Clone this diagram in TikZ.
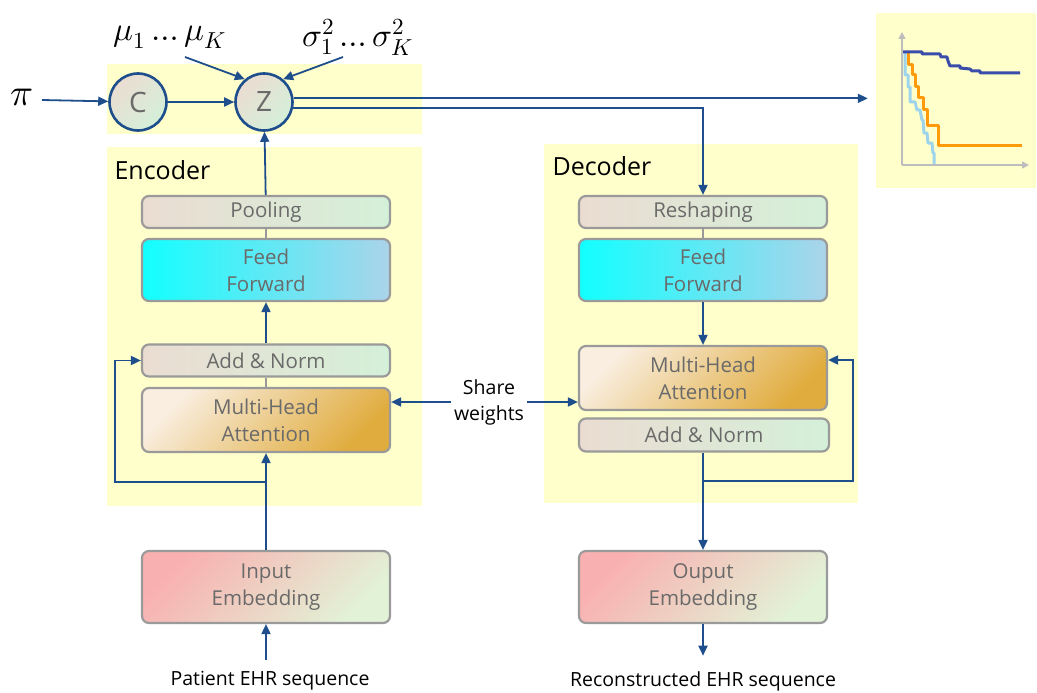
\documentclass[tikz,border=0pt]{standalone}
\usepackage{fontspec}
\usepackage{unicode-math}
\setmainfont{Open Sans}
\setmathfont{Latin Modern Math}
\usetikzlibrary{arrows.meta,positioning,calc}
\definecolor{arrowblue}{HTML}{1F4E8C}
\definecolor{bandyellow}{HTML}{FFFFCC}
\definecolor{boxgray}{HTML}{9A9A9A}
\definecolor{txtgray}{HTML}{6A6A6A}
\definecolor{normL}{HTML}{EBDCD2}
\definecolor{normR}{HTML}{D4F0D8}
\definecolor{ffL}{HTML}{12FFFF}
\definecolor{ffR}{HTML}{ABD3EA}
\definecolor{attL}{HTML}{F9EEE0}
\definecolor{attR}{HTML}{E0AC3E}
\definecolor{embL}{HTML}{F9B0B0}
\definecolor{embR}{HTML}{E2F2D6}
\definecolor{kmblue}{HTML}{3B4DAA}
\definecolor{kmorange}{HTML}{FF9A0A}
\definecolor{kmlight}{HTML}{9DD4EC}
\definecolor{axisgray}{HTML}{BDBDBD}

\begin{document}
\begin{tikzpicture}
  [x=1pt,y=-1pt,
   blk/.style={draw=boxgray,line width=2.2pt,rounded corners=7pt,text=txtgray,
     align=center,minimum width=248pt,inner sep=0pt,
     font=\fontsize{20.5}{27}\selectfont},
   normblk/.style={blk,minimum height=32pt,left color=normL,right color=normR},
   ffblk/.style={blk,minimum height=62pt,left color=ffL,right color=ffR},
   attblk/.style={blk,minimum height=64pt,left color=attL,right color=attR,shading angle=45},
   embblk/.style={blk,minimum height=72pt,left color=embL,right color=embR,shading angle=45},
   latent/.style={circle,draw=arrowblue,line width=2.6pt,minimum size=57pt,inner sep=0pt,
     left color=normL,right color=normR,shading angle=45,text=txtgray,
     font=\fontsize{28}{30}\selectfont},
   band/.style={fill=bandyellow,draw=none},
   flow/.style={arrowblue,line width=1.8pt,-{Triangle[length=10pt,width=9pt]}},
   link/.style={boxgray,line width=1.6pt},
   label/.style={font=\fontsize{19.5}{26}\selectfont,align=center},
   mathlabel/.style={font=\fontsize{33}{36}\selectfont,inner sep=1pt},
   title/.style={font=\fontsize{25}{28}\selectfont,anchor=west},
   km/.style={line width=3pt,line join=round}]

  \useasboundingbox (0,0) rectangle (1037,693);

  % yellow backgrounds
  \fill[band] (107,64) rectangle (422,134);
  \fill[band] (107,147) rectangle (422,506);
  \fill[band] (544,144) rectangle (858,503);

  % latent part
  \node[latent] (C) at (138,102) {C};
  \node[latent] (Z) at (264,102) {Z};
  \node[mathlabel,font=\fontsize{38}{40}\selectfont] (pi) at (22,98) {$\pi$};
  \node[mathlabel] (mu) at (170,37) {$\mu_1\,…\,\mu_K$};
  \node[mathlabel] (sigma) at (358,37) {$\sigma_1^2\,…\,\sigma_K^2$};
  \coordinate (mutail) at (185,57);
  \coordinate (sigmatail) at (343,57);

  \draw[flow] (42,100) -- (C);
  \draw[flow] (C) -- (Z);
  \draw[flow] (mutail) -- (Z.130);
  \draw[flow] (sigmatail) -- (Z.50);

  % survival curves
  \node[band,minimum width=160pt,minimum height=175pt,inner sep=0pt] (plot) at (956,100.5) {};
  \draw[axisgray,line width=1.5pt,-{Triangle[length=7pt,width=7pt]}] (902,165) -- (902,32);
  \draw[axisgray,line width=1.5pt,-{Triangle[length=7pt,width=7pt]}] (902,165) -- (1029,165);
  \draw[km,kmlight] (905,53) -- (905,75) -- (908,75) -- (908,87) -- (910,87) -- (910,102)
    -- (915,102) -- (917,110) -- (920,110) -- (922,120) -- (923,120) -- (924,133)
    -- (927,133) -- (928,143) -- (932,143) -- (933,153) -- (934,153) -- (934,164);
  \draw[km,kmorange] (908,53) -- (908,65) -- (912,65) -- (912,75) -- (915,75) -- (915,87)
    -- (918,87) -- (918,98) -- (923,98) -- (923,110) -- (927,110) -- (927,125)
    -- (938,125) -- (938,145) -- (1022,145);
  \draw[km,kmblue] (903,52) -- (922,52) -- (922,54) -- (940,54) -- (941,57) -- (947,57)
    -- (948,61) -- (950,66) -- (960,66) -- (960,68) -- (970,69) -- (972,71)
    -- (980,71) -- (980,73) -- (1020,73);

  % encoder
  \node[title] (enc) at (111,170) {Encoder};
  \node[normblk] (enc_pool) at (266,212) {Pooling};
  \node[ffblk] (enc_ff) at (266,270) {Feed\\Forward};
  \node[normblk] (enc_norm) at (266,360.5) {Add \& Norm};
  \node[attblk] (enc_att) at (266,420) {Multi-Head\\Attention};
  \node[embblk] (enc_emb) at (266,587) {Input\\Embedding};
  \node[label] (patient) at (270,681) {Patient EHR sequence};

  \draw[flow] (patient.north -| enc_emb) ++(0,-8) -- (enc_emb.south);
  \draw[flow] (enc_emb) -- (enc_att);
  \coordinate (encsplit) at (266,482);
  \draw[flow] (encsplit) -| (115,360.5) -- (enc_norm.west);
  \draw[link] (enc_att) -- (enc_norm);
  \draw[flow] (enc_norm) -- (enc_ff);
  \draw[link] (enc_ff) -- (enc_pool);
  \draw[flow] (enc_pool) -- (Z);

  % decoder
  \node[title] (dec) at (549,166) {Decoder};
  \node[normblk] (dec_shape) at (703,212) {Reshaping};
  \node[ffblk] (dec_ff) at (703,270) {Feed\\Forward};
  \node[attblk] (dec_att) at (703,378) {Multi-Head\\Attention};
  \node[normblk,minimum width=250pt,minimum height=33pt] (dec_norm) at (704,435) {Add \& Norm};
  \node[embblk] (dec_emb) at (703,587) {Ouput\\Embedding};
  \node[label] (recon) at (703,681) {Reconstructed EHR sequence};

  \draw[link] (dec_shape) -- (dec_ff);
  \draw[flow] (dec_ff) -- (dec_att);
  \draw[flow] (dec_norm.south -| dec_emb) -- (dec_emb.north);
  \coordinate (decsplit) at (703,481);
  \draw[flow] (decsplit) -| (853,360) -- (dec_att.east |- 0,360);
  \draw[flow,shorten >=12pt] (dec_emb) -- (recon.north);

  % shared weights
  \node[label] (share) at (489,402) {Share\\weights};
  \draw[flow] (share.west) -- (share.west -| enc_att.east);
  \draw[flow] (share.east) -- (share.east -| dec_att.west);

  % latent to decoder and to curves
  \draw[flow,shorten >=8pt] (Z.7) -- (Z.7 -| plot.west);
  \draw[flow] (Z.-12) -| (dec_shape.north);
\end{tikzpicture}
\end{document}
